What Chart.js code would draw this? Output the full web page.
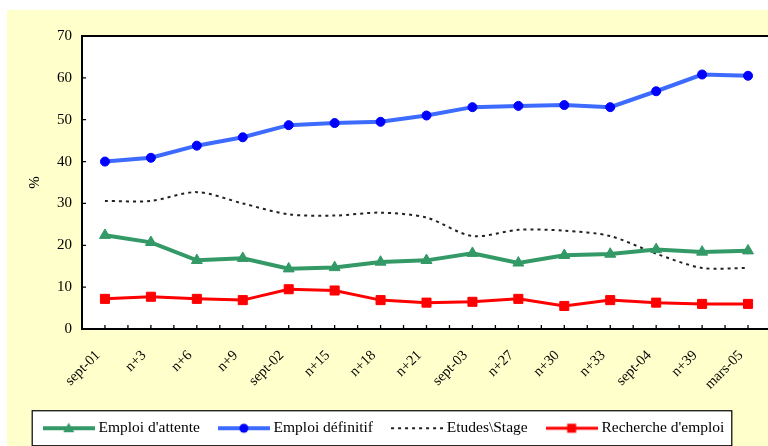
<!DOCTYPE html>
<html>
<head>
<meta charset="utf-8">
<script src="https://cdn.jsdelivr.net/npm/chart.js@4.4.1/dist/chart.umd.min.js"></script>
<style>
  html, body { margin: 0; padding: 0; background: #fff; overflow: hidden; }
  #chart { position: absolute; left: 0; top: 0; }
</style>
</head>
<body>
<canvas id="chart" width="771" height="446"></canvas>
<script>
const periodes = ['sept-01', 'n+3', 'n+6', 'n+9', 'sept-02', 'n+15', 'n+18', 'n+21',
                  'sept-03', 'n+27', 'n+30', 'n+33', 'sept-04', 'n+39', 'mars-05'];
const emploiAttente   = [22.4, 20.7, 16.4, 16.9, 14.4, 14.7, 16.0, 16.4, 18.1, 15.8, 17.6, 17.9, 19.0, 18.4, 18.7];
const emploiDefinitif = [40.0, 40.9, 43.8, 45.8, 48.7, 49.2, 49.5, 51.0, 53.0, 53.3, 53.5, 53.0, 56.8, 60.8, 60.5];
const etudesStage     = [30.6, 30.6, 32.7, 30.0, 27.4, 27.1, 27.8, 26.6, 22.2, 23.7, 23.5, 22.2, 18.0, 14.6, 14.6];
const rechercheEmploi = [7.2, 7.7, 7.2, 6.9, 9.5, 9.2, 6.9, 6.3, 6.5, 7.2, 5.5, 6.9, 6.3, 6.0, 6.0];

const yMin = 0, yMax = 70, yStep = 5, yLabelStep = 10;

Chart.defaults.font.family = "'Liberation Serif', 'Times New Roman', serif";
Chart.defaults.color = '#000';

// petits échantillons ligne + marqueur pour la légende
function makeSample(color, lineWidth, dash, marker, markerColor) {
    const c = document.createElement('canvas');
    c.width = 52; c.height = 14;
    const g = c.getContext('2d');
    g.strokeStyle = color;
    g.lineWidth = lineWidth;
    g.setLineDash(dash);
    g.beginPath(); g.moveTo(0, 7); g.lineTo(52, 7); g.stroke();
    g.setLineDash([]);
    g.fillStyle = markerColor || color;
    g.beginPath();
    if (marker === 'triangle') {
        g.moveTo(26, 1.5); g.lineTo(31.5, 11); g.lineTo(20.5, 11); g.closePath(); g.fill();
    } else if (marker === 'circle') {
        g.arc(26, 7, 4.5, 0, Math.PI * 2); g.fill();
    } else if (marker === 'rect') {
        g.fillRect(21.5, 2.5, 9, 9);
    }
    return c;
}

const samples = [
    makeSample('#339966', 4, [], 'triangle'),
    makeSample('#3d6bff', 4, [], 'circle', '#0000ff'),
    makeSample('#222222', 2, [3, 4], null),
    makeSample('#ff0000', 3, [], 'rect')
];

// fond jaune, zone de tracé blanche, cadre de la légende
const fondPlugin = {
    id: 'fond',
    beforeDraw(chart) {
        const { ctx, chartArea: ca } = chart;
        ctx.save();
        ctx.fillStyle = '#ffffff';
        ctx.fillRect(0, 0, chart.width, chart.height);
        ctx.fillStyle = '#ffffcc';
        ctx.fillRect(7, 10, chart.width - 7, chart.height - 10);
        ctx.fillStyle = '#ffffff';
        ctx.fillRect(ca.left, ca.top, ca.width + 10, ca.height);

        const hb = chart.legend && chart.legend.legendHitBoxes;
        if (hb && hb.length) {
            const first = hb[0], last = hb[hb.length - 1];
            const left = first.left - 15;
            const right = last.left + last.width + 7;
            const cy = first.top + first.height / 2;
            ctx.fillStyle = '#ffffff';
            ctx.fillRect(left, cy - 18, right - left, 35);
            ctx.strokeStyle = '#000';
            ctx.lineWidth = 1.2;
            ctx.strokeRect(left + 0.5, cy - 17.5, right - left, 35);
        }
        ctx.restore();
    },
    beforeDatasetsDraw(chart) {
        const { ctx, chartArea: ca, scales: { x, y } } = chart;
        ctx.save();
        ctx.strokeStyle = '#000';
        ctx.lineWidth = 2;
        ctx.strokeRect(ca.left, ca.top, ca.width + 10, ca.height);

        // graduations vers l'intérieur
        ctx.lineWidth = 1.3;
        ctx.beginPath();
        const half = (x.getPixelForValue(1) - x.getPixelForValue(0)) / 2;
        periodes.forEach((p, i) => {
            const px = x.getPixelForValue(i);
            [px, px + half].forEach(v => {
                ctx.moveTo(v, ca.bottom);
                ctx.lineTo(v, ca.bottom - 4);
            });
        });
        y.ticks.forEach(t => {
            const py = y.getPixelForValue(t.value);
            ctx.moveTo(ca.left, py);
            ctx.lineTo(ca.left + 4, py);
        });
        ctx.stroke();
        ctx.restore();
    }
};

new Chart(document.getElementById('chart'), {
    type: 'line',
    data: {
        labels: periodes,
        datasets: [
            {
                label: "Emploi d'attente",
                data: emploiAttente,
                borderColor: '#339966',
                backgroundColor: '#339966',
                borderWidth: 4,
                pointStyle: 'triangle',
                pointRadius: 6.3,
                pointBorderWidth: 1
            },
            {
                label: 'Emploi définitif',
                data: emploiDefinitif,
                borderColor: '#3d6bff',
                backgroundColor: '#0000ff',
                pointBackgroundColor: '#0000ff',
                pointBorderColor: '#0000ff',
                borderWidth: 4,
                pointRadius: 4.5,
                pointBorderWidth: 1
            },
            {
                label: 'Etudes\\Stage',
                data: etudesStage,
                borderColor: '#222222',
                borderWidth: 2,
                borderDash: [3, 4],
                pointRadius: 0,
                tension: 0.3
            },
            {
                label: "Recherche d'emploi",
                data: rechercheEmploi,
                borderColor: '#ff0000',
                backgroundColor: '#ff0000',
                borderWidth: 3,
                pointStyle: 'rect',
                pointRadius: 6.4,
                pointBorderWidth: 1
            }
        ]
    },
    options: {
        responsive: false,
        animation: false,
        events: [],
        layout: { autoPadding: false, padding: { top: 36, left: 0, right: 0, bottom: 0 } },
        plugins: {
            tooltip: { enabled: false },
            legend: {
                position: 'bottom',
                labels: {
                    usePointStyle: true,
                    pointStyleWidth: 44,
                    padding: 22,
                    color: '#000',
                    font: { size: 15.5 },
                    generateLabels(chart) {
                        const items = Chart.defaults.plugins.legend.labels.generateLabels(chart);
                        items.forEach((it, i) => { it.pointStyle = samples[i]; });
                        return items;
                    }
                }
            }
        },
        scales: {
            x: {
                offset: true,
                grid: { display: false, drawTicks: false },
                border: { display: false },
                ticks: {
                    autoSkip: false,
                    minRotation: 45,
                    maxRotation: 45,
                    padding: 18,
                    labelOffset: -7,
                    font: { size: 14.5 },
                    color: '#000'
                },
                afterFit(scale) {
                    const lg = scale.chart.legend;
                    const lh = lg ? lg.height : 45;
                    scale.height = scale.chart.height - lh - 329;
                    scale.paddingRight = 0;
                }
            },
            y: {
                min: yMin,
                max: yMax,
                grid: { display: false, drawTicks: false },
                border: { display: false },
                ticks: {
                    stepSize: yStep,
                    padding: 10,
                    font: { size: 15 },
                    color: '#000',
                    callback: v => (v % yLabelStep === 0 ? v : '')
                },
                title: {
                    display: true,
                    text: '%',
                    font: { size: 15 },
                    color: '#000',
                    padding: { top: 26, bottom: 0 }
                },
                afterFit(scale) {
                    scale.width = 82;
                }
            }
        }
    },
    plugins: [fondPlugin]
});
</script>
</body>
</html>
